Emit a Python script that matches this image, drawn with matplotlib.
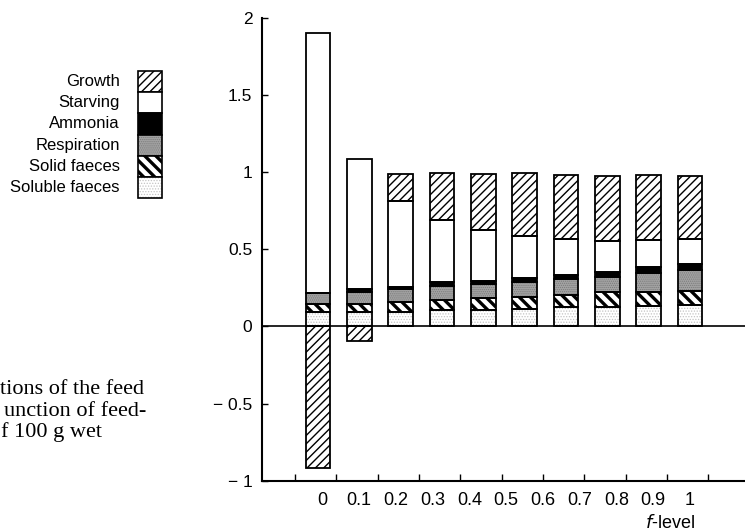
import matplotlib
matplotlib.use("Agg")
import matplotlib.pyplot as plt
import numpy as np
from matplotlib.patches import Rectangle

plt.rcParams["font.family"] = ["Liberation Sans", "DejaVu Sans"]

# valeurs (fraction de la ration), une barre par niveau
F_LABELS = ["0", "0.1", "0.2", "0.3", "0.4", "0.5", "0.6", "0.7", "0.8", "0.9", "1"]
SOLUBLE = [0.095, 0.092, 0.096, 0.107, 0.110, 0.112, 0.124, 0.125, 0.133, 0.141]
SOLIDE = [0.052, 0.052, 0.061, 0.065, 0.077, 0.081, 0.078, 0.099, 0.093, 0.087]
RESPIRATION = [0.067, 0.082, 0.084, 0.093, 0.088, 0.095, 0.104, 0.099, 0.121, 0.138]
AMMONIAC = [0.0, 0.017, 0.017, 0.022, 0.017, 0.026, 0.028, 0.032, 0.037, 0.039]
JEUNE = [1.691, 0.841, 0.556, 0.401, 0.331, 0.275, 0.231, 0.201, 0.177, 0.164]
CROISSANCE = [-0.916, -0.095, 0.175, 0.305, 0.366, 0.404, 0.417, 0.420, 0.421, 0.409]

YTICKS = [-1, -0.5, 0, 0.5, 1, 1.5, 2]
YLABELS = ["\u2212 1", "\u2212 0.5", "0", "0.5", "1", "1.5", "2"]

# (fond, hachure, couleur hachure, épaisseur hachure)
STYLES = {
    "Soluble faeces": ("white", "......", "#c4c4c4", 0.6),
    "Solid faeces": ("white", "\\\\\\", "black", 2.4),
    "Respiration": ("#a3a3a3", "........", "#7a7a7a", 0.6),
    "Ammonia": ("black", "", "black", 1.0),
    "Starving": ("white", "", "black", 1.0),
    "Growth": ("white", "////", "black", 1.0),
}

W, H = 745, 532
fig = plt.figure(figsize=(W / 100, H / 100), dpi=100)
ax = fig.add_axes([262 / W, 1 - 480.7 / H, (W - 262) / W, (480.7 - 18) / H])

x = np.arange(len(SOLUBLE))
largeur = 0.6


def segment(nom, bas, haut):
    fond, hach, coul, lw = STYLES[nom]
    with plt.rc_context({"hatch.linewidth": lw}):
        ax.bar(x, haut, largeur, bottom=bas, color=fond, hatch=hach,
               edgecolor=coul, linewidth=0, zorder=2)
    ax.bar(x, haut, largeur, bottom=bas, fill=False, edgecolor="black",
           linewidth=1.3, zorder=3)


bas = np.zeros(len(x))
for nom, vals in [("Soluble faeces", SOLUBLE), ("Solid faeces", SOLIDE),
                  ("Respiration", RESPIRATION), ("Ammonia", AMMONIAC),
                  ("Starving", JEUNE)]:
    vals = np.array(vals)
    segment(nom, bas.copy(), vals)
    bas += vals
croiss = np.array(CROISSANCE)
segment("Growth", np.where(croiss > 0, bas, 0), croiss)

ax.axhline(0, color="black", lw=1.2, zorder=4)

ax.set_xlim(-1.355, 10.33)
ax.set_ylim(-1, 2)
for s in ("top", "right"):
    ax.spines[s].set_visible(False)
for s in ("left", "bottom"):
    ax.spines[s].set_linewidth(1.5)

ax.set_yticks(YTICKS)
ax.set_yticklabels(YLABELS)
ax.tick_params(axis="y", direction="in", length=4, width=1, pad=7, labelsize=12.5)
ax.set_xticks(np.arange(len(F_LABELS)) - 0.56)
ax.set_xticklabels([])
ax.tick_params(axis="x", direction="in", length=5, width=1)

# les étiquettes ne tombent pas sous les barres dans l'original
pos = np.linspace(0.1, 9.0, len(F_LABELS))
for p, lab in zip(pos, F_LABELS):
    ax.text(p, -0.042, lab, transform=ax.get_xaxis_transform(),
            ha="center", va="center", fontsize=13)
ax.text(8.52, -0.091, "$\\it{f}$-level", transform=ax.get_xaxis_transform(),
        ha="center", va="center", fontsize=13)

# légende à gauche, cases empilées
noms = ["Growth", "Starving", "Ammonia", "Respiration", "Solid faeces", "Soluble faeces"]
h_case = 21.2
for i, nom in enumerate(noms):
    fond, hach, coul, lw = STYLES[nom]
    y0 = 1 - (71 + (i + 1) * h_case) / H
    with plt.rc_context({"hatch.linewidth": lw}):
        fig.add_artist(Rectangle((138 / W, y0), 24 / W, h_case / H,
                                 transform=fig.transFigure, facecolor=fond,
                                 hatch=hach, edgecolor=coul, linewidth=0))
    fig.add_artist(Rectangle((138 / W, y0), 24 / W, h_case / H,
                             transform=fig.transFigure, fill=False,
                             edgecolor="black", linewidth=1.2))
    fig.text(120 / W, y0 + h_case / 2 / H, nom, ha="right", va="center", fontsize=12)

# bout de légende du livre, coupé à gauche
for dx, y, txt in [(0, 394, "tions of the feed"), (4, 415.5, "unction of feed-"),
                   (1, 437, "f 100 g wet")]:
    fig.text(dx / W, 1 - y / H, txt, family="Liberation Serif", fontsize=16,
             va="baseline", ha="left")

fig.savefig("out.png", dpi=100)
